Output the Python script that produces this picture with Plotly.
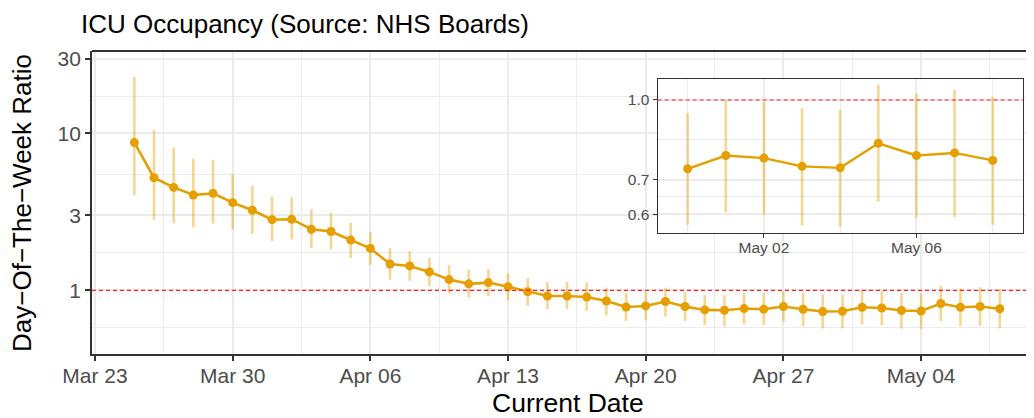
import plotly.graph_objects as go
import pandas as pd

# ---- data ----
dates = pd.date_range("2020-03-25", "2020-05-08", freq="D")
ratio = [8.74, 5.22, 4.53, 4.05, 4.15, 3.62, 3.24, 2.82, 2.84, 2.45,
         2.37, 2.09, 1.85, 1.47, 1.43, 1.31, 1.17, 1.10, 1.12, 1.055,
         0.98, 0.92, 0.92, 0.907, 0.855, 0.783, 0.795, 0.848, 0.788, 0.75,
         0.746, 0.765, 0.757, 0.788, 0.757, 0.732, 0.735, 0.780, 0.771, 0.743,
         0.738, 0.824, 0.780, 0.789, 0.763]
lower = [4.03, 2.82, 2.69, 2.52, 2.66, 2.44, 2.29, 2.06, 2.11, 1.85,
         1.82, 1.61, 1.45, 1.17, 1.15, 1.06, 0.957, 0.90, 0.92, 0.864,
         0.795, 0.757, 0.76, 0.74, 0.694, 0.638, 0.648, 0.68, 0.638, 0.60,
         0.59, 0.608, 0.60, 0.63, 0.59, 0.571, 0.572, 0.605, 0.598, 0.570,
         0.567, 0.635, 0.590, 0.592, 0.572]
upper = [22.9, 10.5, 8.13, 6.89, 6.79, 5.53, 4.64, 3.97, 3.91, 3.27,
         3.11, 2.69, 2.36, 1.86, 1.78, 1.61, 1.45, 1.35, 1.36, 1.28,
         1.20, 1.13, 1.13, 1.12, 1.04, 0.957, 0.976, 1.04, 0.976, 0.93,
         0.93, 0.966, 0.966, 0.99, 0.966, 0.943, 0.942, 1.0, 0.992, 0.963,
         0.956, 1.07, 1.03, 1.046, 1.015]
inset_count = 9  # last 9 days shown in the inset

main_ticks = pd.date_range("2020-03-23", "2020-05-04", freq="7D")
main_minor = pd.date_range("2020-03-26 12:00", "2020-05-07 12:00", freq="7D")
y_ticks = [1, 3, 10, 30]
y_minor = [0.577, 1.732, 5.477, 17.32]
inset_ticks = ["2020-05-02", "2020-05-06"]
inset_minor = ["2020-04-30", "2020-05-04", "2020-05-08"]
inset_y_ticks = [0.6, 0.7, 1.0]
inset_y_text = ["0.6", "0.7", "1.0"]
inset_y_minor = [0.648, 0.837]

ORANGE = "#E69F00"
ERR = "rgba(230,159,0,0.42)"
GRID = "#EBEBEB"
DARK = "#333333"
TICKTXT = "#4D4D4D"
FONT = "Liberation Sans, Arial, sans-serif"

# the page body adds an 8px margin; the figure is sized to compensate
OFF = 8
W, H = 1034 - OFF, 418 - OFF


def segments(xs, lo, hi):
    ex, ey = [], []
    for d, a, b in zip(xs, lo, hi):
        ex += [d, d, None]
        ey += [a, b, None]
    return ex, ey


fig = go.Figure()
ex, ey = segments(dates, lower, upper)
fig.add_trace(go.Scatter(x=ex, y=ey, mode="lines",
                         line=dict(color=ERR, width=2.6),
                         hoverinfo="skip", showlegend=False,
                         xaxis="x", yaxis="y"))
fig.add_trace(go.Scatter(x=dates, y=ratio, mode="lines+markers",
                         line=dict(color=ORANGE, width=2.6),
                         marker=dict(color=ORANGE, size=9),
                         showlegend=False, xaxis="x", yaxis="y"))

idates = dates[-inset_count:]
iex, iey = segments(idates, lower[-inset_count:], upper[-inset_count:])
fig.add_trace(go.Scatter(x=iex, y=iey, mode="lines",
                         line=dict(color=ERR, width=2.6),
                         hoverinfo="skip", showlegend=False,
                         xaxis="x2", yaxis="y2"))
fig.add_trace(go.Scatter(x=idates, y=ratio[-inset_count:], mode="lines+markers",
                         line=dict(color=ORANGE, width=2.4),
                         marker=dict(color=ORANGE, size=9),
                         showlegend=False, xaxis="x2", yaxis="y2"))

fig.update_layout(
    width=W, height=H,
    margin=dict(l=92 - OFF, r=0, t=51 - OFF, b=64, autoexpand=False),
    paper_bgcolor="white", plot_bgcolor="white",
    font=dict(family=FONT, color="black"),
    title=dict(text="ICU Occupancy (Source: NHS Boards)",
               font=dict(size=26, color="black", family=FONT),
               xref="container", x=(81 - OFF) / W, xanchor="left",
               yref="container", y=1 - (24.2 - OFF) / H, yanchor="middle"),
    xaxis=dict(type="date", domain=[0, 1], anchor="y",
               range=["2020-03-22 20:20", "2020-05-09 17:45"],
               tickvals=main_ticks, tickformat="%b %d",
               tickfont=dict(size=21, color=TICKTXT), ticklabelstandoff=-3,
               ticks="outside", ticklen=5, tickwidth=1.8, tickcolor=DARK,
               showline=True, linecolor=DARK, linewidth=1.8, mirror=False,
               showgrid=True, gridcolor=GRID, gridwidth=2, zeroline=False,
               minor=dict(tickvals=main_minor, showgrid=True,
                          gridcolor=GRID, gridwidth=1, ticks="")),
    yaxis=dict(type="log", domain=[0, 1], anchor="x",
               range=[-0.406, 1.5255],
               tickvals=y_ticks, ticktext=[str(v) for v in y_ticks],
               tickfont=dict(size=21, color=TICKTXT),
               ticks="outside", ticklen=5, tickwidth=1.8, tickcolor=DARK,
               showline=True, linecolor=DARK, linewidth=1.8, mirror=False,
               showgrid=True, gridcolor=GRID, gridwidth=2, zeroline=False,
               minor=dict(tickvals=y_minor, showgrid=True,
                          gridcolor=GRID, gridwidth=1, ticks="")),
    xaxis2=dict(type="date", domain=[0.6005, 0.988], anchor="y2",
                range=["2020-04-29 05:07", "2020-05-08 18:53"],
                tickvals=inset_ticks, tickformat="%b %d",
                tickfont=dict(size=15.5, color=TICKTXT), ticklabelstandoff=-3,
                ticks="outside", ticklen=4, tickwidth=1.3, tickcolor=DARK,
                showline=True, linecolor=DARK, linewidth=1.3, mirror=True,
                showgrid=True, gridcolor=GRID, gridwidth=1.6, zeroline=False,
                minor=dict(tickvals=inset_minor, showgrid=True,
                           gridcolor=GRID, gridwidth=0.9, ticks="")),
    yaxis2=dict(type="log", domain=[0.4003, 0.9086], anchor="x2",
                range=[-0.258, 0.0414],
                tickvals=inset_y_ticks, ticktext=inset_y_text,
                tickfont=dict(size=15.5, color=TICKTXT),
                ticks="outside", ticklen=4, tickwidth=1.3, tickcolor=DARK,
                showline=True, linecolor=DARK, linewidth=1.3, mirror=True,
                showgrid=True, gridcolor=GRID, gridwidth=1.6, zeroline=False,
                minor=dict(tickvals=inset_y_minor, showgrid=True,
                           gridcolor=GRID, gridwidth=0.9, ticks="")),
)

# reference lines at ratio 1
fig.add_shape(type="line", xref="x domain", yref="y", x0=0, x1=1, y0=1, y1=1,
              line=dict(color="#FF2020", width=1.2, dash="4px,3px"), layer="above")
fig.add_shape(type="line", xref="x2 domain", yref="y2", x0=0, x1=1, y0=1, y1=1,
              line=dict(color="#FF2020", width=1.2, dash="4px,3px"), layer="above")
# top border of the main panel (panel continues beyond the right edge)
fig.add_shape(type="line", xref="paper", yref="paper", x0=0, x1=1.05, y0=1, y1=1,
              line=dict(color=DARK, width=1.8), layer="above")

# axis titles
fig.add_annotation(text="Current Date", xref="paper", yref="paper",
                   x=0.5048, y=-0.163, xanchor="center", yanchor="middle",
                   showarrow=False, font=dict(size=26.5, color="black", family=FONT))
fig.add_annotation(text="Day\u2212Of\u2212The\u2212Week Ratio", xref="paper", yref="paper",
                   x=-0.0749, y=0.5, xanchor="center", yanchor="middle",
                   textangle=-90, showarrow=False,
                   font=dict(size=26, color="black", family=FONT))

fig.write_html("out.html")
